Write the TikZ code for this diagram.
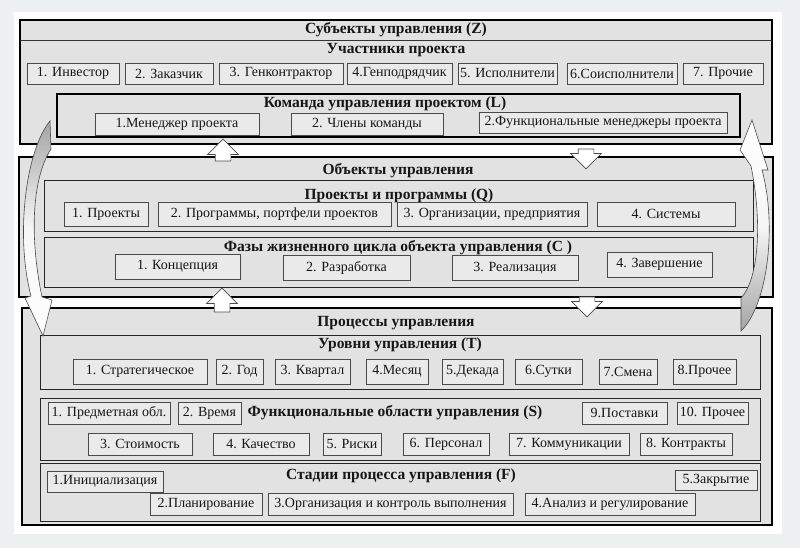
\documentclass[tikz,border=0pt]{standalone}
\usepackage{fontspec}
\setmainfont{Liberation Serif}
\usetikzlibrary{shapes.arrows}
\definecolor{ink}{HTML}{161616}
\definecolor{edge}{HTML}{4A4A4A}
\definecolor{paper}{HTML}{EEF1F1}
\definecolor{panelbg}{HTML}{E2E2E2}
\definecolor{cellbg}{HTML}{EAEAEA}
\definecolor{shadow}{HTML}{A5A5A5}

\begin{document}
\begin{tikzpicture}[
 x=1pt,y=-1pt,
 head/.style={font=\bfseries\fontsize{15.5}{17}\selectfont,text=ink,inner sep=0pt},
 item/.style={draw=edge,fill=cellbg,line width=.9pt,inner sep=0pt,font=\fontsize{14}{16}\selectfont,text=ink},
 panel/.style={draw=black,fill=panelbg,line width=1.7pt},
 frame/.style={draw=black!85,fill=panelbg,line width=1pt},
 blockarrow/.style={single arrow,draw=edge,fill=white,line width=.7pt,inner xsep=0pt,inner ysep=7.5pt,
   single arrow head extend=7.5pt},
 curvearrow/.style={draw=edge,line width=.6pt}
]
\useasboundingbox (0,0) rectangle (800,548);
\fill[paper] (0,0) rectangle (800,548);
\fill[white] (14,12) rectangle (782,534);

% Subjects of management.
\filldraw[panel] (20,20) rectangle (772,144);
\draw[black!80,line width=.8pt] (20,40)--(772,40);
\node[head] (zt) at (396,30) {Субъекты управления (Z)};
\node[head] (ut) at (396,50) {Участники проекта};
\node[item,minimum width=92,minimum height=21] (inv) at (73,73.5) {1. Инвестор};
\node[item,minimum width=88,minimum height=21] (zak) at (169,73.5) {2. Заказчик};
\node[item,minimum width=124,minimum height=21] (gk) at (281,73.5) {3. Генконтрактор};
\node[item,minimum width=105,minimum height=21] (gp) at (399.5,73.5) {4.Генподрядчик};
\node[item,minimum width=99,minimum height=21] (isp) at (507.5,73.5) {5. Исполнители};
\node[item,minimum width=110,minimum height=21] (sois) at (622,73.5) {6.Соисполнители};
\node[item,minimum width=80,minimum height=21] (proch) at (723,73.5) {7. Прочие};

% Project team.
\filldraw[panel,line width=2.6pt] (57,94) rectangle (740,137);
\node[head] (lt) at (385,104) {Команда управления проектом (L)};
\node[item,minimum width=164,minimum height=22] (man) at (177,124) {1.Менеджер проекта};
\node[item,minimum width=152,minimum height=22] (chl) at (367,124) {2. Члены команды};
\node[item,minimum width=248,minimum height=21] (fun) at (603,122.5) {2.Функциональные менеджеры проекта};

% Objects of management.
\filldraw[panel] (19,157) rectangle (773,297);
\node[head] (ot) at (398,171) {Объекты управления};
\filldraw[frame] (44,181) rectangle (753,231);
\node[head] (qt) at (399,196) {Проекты и программы (Q)};
\node[item,minimum width=84,minimum height=24] (pr) at (106,214) {1. Проекты};
\node[item,minimum width=233,minimum height=24] (prog) at (274.5,214) {2. Программы, портфели проектов};
\node[item,minimum width=190,minimum height=24] (org) at (492,214) {3. Организации, предприятия};
\node[item,minimum width=138,minimum height=24] (sys) at (666,214) {4. Системы};
\filldraw[frame] (44,237) rectangle (753,287);
\node[head] (ct) at (398,248) {Фазы жизненного цикла объекта управления (C )};
\node[item,minimum width=125,minimum height=25] (kon) at (177.5,266.5) {1. Концепция};
\node[item,minimum width=127,minimum height=25] (raz) at (346.5,267.5) {2. Разработка};
\node[item,minimum width=126,minimum height=25] (real) at (515,268) {3. Реализация};
\node[item,minimum width=105,minimum height=25] (zav) at (659.5,264.5) {4. Завершение};

% Management processes.
\filldraw[panel] (22,308) rectangle (772,525);
\node[head] (pt) at (396,323) {Процессы управления};
\filldraw[frame] (40,335) rectangle (760,389);
\node[head] (tt) at (400,345) {Уровни управления (T)};
\node[item,minimum width=134,minimum height=25] (lv1) at (140,371.5) {1. Стратегическое};
\node[item,minimum width=47,minimum height=25] (lv2) at (239.5,371.5) {2. Год};
\node[item,minimum width=75,minimum height=25] (lv3) at (312.5,371.5) {3. Квартал};
\node[item,minimum width=62,minimum height=25] (lv4) at (397,371.5) {4.Месяц};
\node[item,minimum width=61,minimum height=25] (lv5) at (472.5,371.5) {5.Декада};
\node[item,minimum width=67,minimum height=25] (lv6) at (548.5,371.5) {6.Сутки};
\node[item,minimum width=58,minimum height=25] (lv7) at (628,371.5) {7.Смена};
\node[item,minimum width=63,minimum height=25] (lv8) at (704.5,371.5) {8.Прочее};
\filldraw[frame] (40,398) rectangle (760,460);
\node[head] (st) at (395,413) {Функциональные области управления (S)};
\node[item,minimum width=122,minimum height=22] (fa1) at (109,413) {1. Предметная обл.};
\node[item,minimum width=63,minimum height=22] (fa2) at (209.5,413) {2. Время};
\node[item,minimum width=104,minimum height=22] (fa3) at (140,444) {3. Стоимость};
\node[item,minimum width=96,minimum height=22] (fa4) at (261,444) {4. Качество};
\node[item,minimum width=58,minimum height=22] (fa5) at (352,444) {5. Риски};
\node[item,minimum width=86,minimum height=22] (fa6) at (446,444) {6. Персонал};
\node[item,minimum width=120,minimum height=22] (fa7) at (569,444) {7. Коммуникации};
\node[item,minimum width=92,minimum height=22] (fa8) at (686,444) {8. Контракты};
\node[item,minimum width=85,minimum height=22] (fa9) at (624.5,413) {9.Поставки};
\node[item,minimum width=71,minimum height=22] (fa10) at (712.5,413) {10. Прочее};
\filldraw[frame] (40,463) rectangle (760,521);
\node[head] (ft) at (401,476) {Стадии процесса управления (F)};
\node[item,minimum width=116,minimum height=21] (sg1) at (105,481.5) {1.Инициализация};
\node[item,minimum width=112,minimum height=22] (sg2) at (206,504) {2.Планирование};
\node[item,minimum width=245,minimum height=22] (sg3) at (390.5,504) {3.Организация и контроль выполнения};
\node[item,minimum width=170,minimum height=22] (sg4) at (610,504) {4.Анализ и регулирование};
\node[item,minimum width=82,minimum height=20] (sg5) at (716,480) {5.Закрытие};

% Block arrows between the levels.
\node[blockarrow,rotate=90,minimum height=22] (a1) at (223,154) {};
\node[blockarrow,rotate=-90,minimum height=20] (a2) at (586,155) {};
\node[blockarrow,rotate=90,minimum height=24] (a3) at (222,304) {};
\node[blockarrow,rotate=-90,minimum height=20] (a4) at (587,303) {};

% Curved arrows round the sides.
\shade[curvearrow,top color=shadow,bottom color=white,middle color=white!90!shadow]
  (50,121) .. controls (26,150) and (15,235) .. (31,296) -- (25,298) -- (43,336)
  -- (52,300) -- (42,297) .. controls (30,240) and (31,180) .. (51,149) -- cycle;
\shade[curvearrow,bottom color=shadow,top color=white,middle color=white!90!shadow]
  (741,331) .. controls (768,305) and (777,225) .. (762,170) -- (768,170) -- (752,120)
  -- (740,150) -- (751,166) .. controls (763,225) and (758,280) .. (741,298) -- cycle;
\end{tikzpicture}
\end{document}
